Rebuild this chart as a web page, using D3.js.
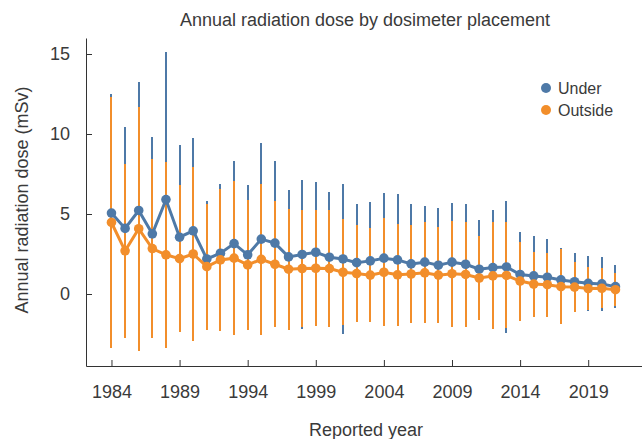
<!DOCTYPE html>
<html>
<head>
<meta charset="utf-8">
<script src="https://cdn.jsdelivr.net/npm/d3@7"></script>
<style>
  body { margin: 0; background: #fff; }
  text { font-family: "Liberation Sans", Arial, sans-serif; fill: #3a3a3a; }
  .tick line { stroke: #333; }
  .domain { stroke: #333; }
</style>
</head>
<body>
<div data-viz="wrapper"></div>
<script>
const years = d3.range(1984, 2022)
const xTickYears = [1984, 1989, 1994, 1999, 2004, 2009, 2014, 2019]
const yTickValues = [0, 5, 10, 15]

const underMean = [5.06, 4.10, 5.22, 3.76, 5.90, 3.55, 3.95, 2.19, 2.55, 3.15,
  2.45, 3.43, 3.18, 2.32, 2.47, 2.61, 2.30, 2.19, 1.96, 2.07,
  2.24, 2.13, 1.88, 1.99, 1.80, 1.99, 1.86, 1.55, 1.65, 1.69,
  1.22, 1.13, 1.05, 0.88, 0.77, 0.67, 0.63, 0.46]
const underSD = [7.44, 6.33, 8.03, 6.06, 9.20, 5.79, 5.77, 3.60, 4.35, 5.15,
  4.36, 6.02, 5.16, 4.20, 4.66, 4.39, 4.09, 4.69, 3.65, 3.68,
  4.05, 4.10, 3.72, 3.53, 3.57, 3.71, 3.76, 3.09, 3.57, 4.14,
  2.65, 2.51, 2.38, 2.02, 1.78, 1.71, 1.67, 1.36]
const outsideMean = [4.47, 2.70, 4.08, 2.84, 2.45, 2.21, 2.50, 1.71, 2.13, 2.24,
  1.82, 2.17, 1.86, 1.55, 1.59, 1.61, 1.59, 1.36, 1.28, 1.18,
  1.36, 1.20, 1.25, 1.32, 1.18, 1.27, 1.22, 1.00, 1.13, 1.16,
  0.81, 0.62, 0.58, 0.46, 0.43, 0.34, 0.36, 0.27]
const outsideSD = [7.83, 5.45, 7.62, 5.60, 5.80, 4.58, 5.42, 3.93, 4.45, 4.82,
  4.07, 4.73, 3.93, 3.78, 3.68, 3.63, 3.68, 3.32, 3.02, 2.92,
  3.36, 3.17, 3.05, 3.16, 2.98, 3.31, 3.27, 2.63, 3.34, 3.31,
  2.47, 2.03, 2.00, 2.34, 1.54, 1.34, 1.26, 1.02]

const seriesNames = ["Under", "Outside"]
const colors = { Under: "#4e79a7", Outside: "#f28e2b" }

const series = [
  { name: "Under", data: years.map((yr, i) => ({ year: yr, mean: underMean[i], sd: underSD[i] })) },
  { name: "Outside", data: years.map((yr, i) => ({ year: yr, mean: outsideMean[i], sd: outsideSD[i] })) },
]

const dimensions = {
  width: 642,
  height: 439,
  margin: { top: 38, right: 0, bottom: 73, left: 86 },
}
dimensions.boundedWidth = dimensions.width - dimensions.margin.left - dimensions.margin.right
dimensions.boundedHeight = dimensions.height - dimensions.margin.top - dimensions.margin.bottom

const xAccessor = d => d.year
const yAccessor = d => d.mean

const xScale = d3.scaleLinear()
  .domain([1982.13, 2022.95])
  .range([0, dimensions.boundedWidth])
const yScale = d3.scaleLinear()
  .domain([-4.5, 16])
  .range([dimensions.boundedHeight, 0])

const lineGenerator = d3.line()
  .x(d => xScale(xAccessor(d)))
  .y(d => yScale(yAccessor(d)))

const svg = d3.select("[data-viz='wrapper']").append("svg")
  .attr("width", dimensions.width)
  .attr("height", dimensions.height)

const bounds = svg.append("g")
  .attr("transform", `translate(${dimensions.margin.left},${dimensions.margin.top})`)

// Error bars (mean +/- SD), blue underneath orange
// crispEdges so the blue bar doesn't bleed around the orange one
series.forEach(s => {
  bounds.append("g")
    .attr("shape-rendering", "crispEdges")
    .selectAll("line")
    .data(s.data)
    .join("line")
      .attr("x1", d => xScale(d.year))
      .attr("x2", d => xScale(d.year))
      .attr("y1", d => yScale(d.mean - d.sd))
      .attr("y2", d => yScale(d.mean + d.sd))
      .attr("stroke", colors[s.name])
      .attr("stroke-width", 2)
})

// Mean lines and markers
series.forEach(s => {
  bounds.append("path")
    .attr("d", lineGenerator(s.data))
    .attr("fill", "none")
    .attr("stroke", colors[s.name])
    .attr("stroke-width", 3)
  bounds.append("g")
    .selectAll("circle")
    .data(s.data)
    .join("circle")
      .attr("cx", d => xScale(xAccessor(d)))
      .attr("cy", d => yScale(yAccessor(d)))
      .attr("r", 4.8)
      .attr("fill", colors[s.name])
})

// Axes, ticks pointing inward
const yAxisGenerator = d3.axisLeft(yScale)
  .tickValues(yTickValues)
  .tickSize(-6)
  .tickPadding(16)
  .tickSizeOuter(0)
const xAxisGenerator = d3.axisBottom(xScale)
  .tickValues(xTickYears)
  .tickFormat(d3.format("d"))
  .tickSize(-6)
  .tickPadding(19)
  .tickSizeOuter(0)

const yAxis = bounds.append("g").call(yAxisGenerator)
yAxis.selectAll("text").style("font-size", "18px")

const xAxis = bounds.append("g")
  .attr("transform", `translate(0,${dimensions.boundedHeight})`)
  .call(xAxisGenerator)
xAxis.selectAll("text").style("font-size", "18px")

// Labels
svg.append("text")
  .attr("x", 365)
  .attr("y", 26)
  .attr("text-anchor", "middle")
  .style("font-size", "18px")
  .text("Annual radiation dose by dosimeter placement")

svg.append("text")
  .attr("x", 366)
  .attr("y", 436)
  .attr("text-anchor", "middle")
  .style("font-size", "18px")
  .text("Reported year")

svg.append("text")
  .attr("transform", `translate(28,200) rotate(-90)`)
  .attr("text-anchor", "middle")
  .style("font-size", "18px")
  .text("Annual radiation dose (mSv)")

// Legend
const legend = svg.append("g")
  .selectAll("g")
  .data(seriesNames)
  .join("g")
    .attr("transform", (d, i) => `translate(546,${88 + i * 22})`)
legend.append("circle")
  .attr("r", 5)
  .attr("fill", d => colors[d])
legend.append("text")
  .attr("x", 12)
  .attr("y", 6)
  .style("font-size", "16px")
  .text(d => d)
</script>
</body>
</html>
